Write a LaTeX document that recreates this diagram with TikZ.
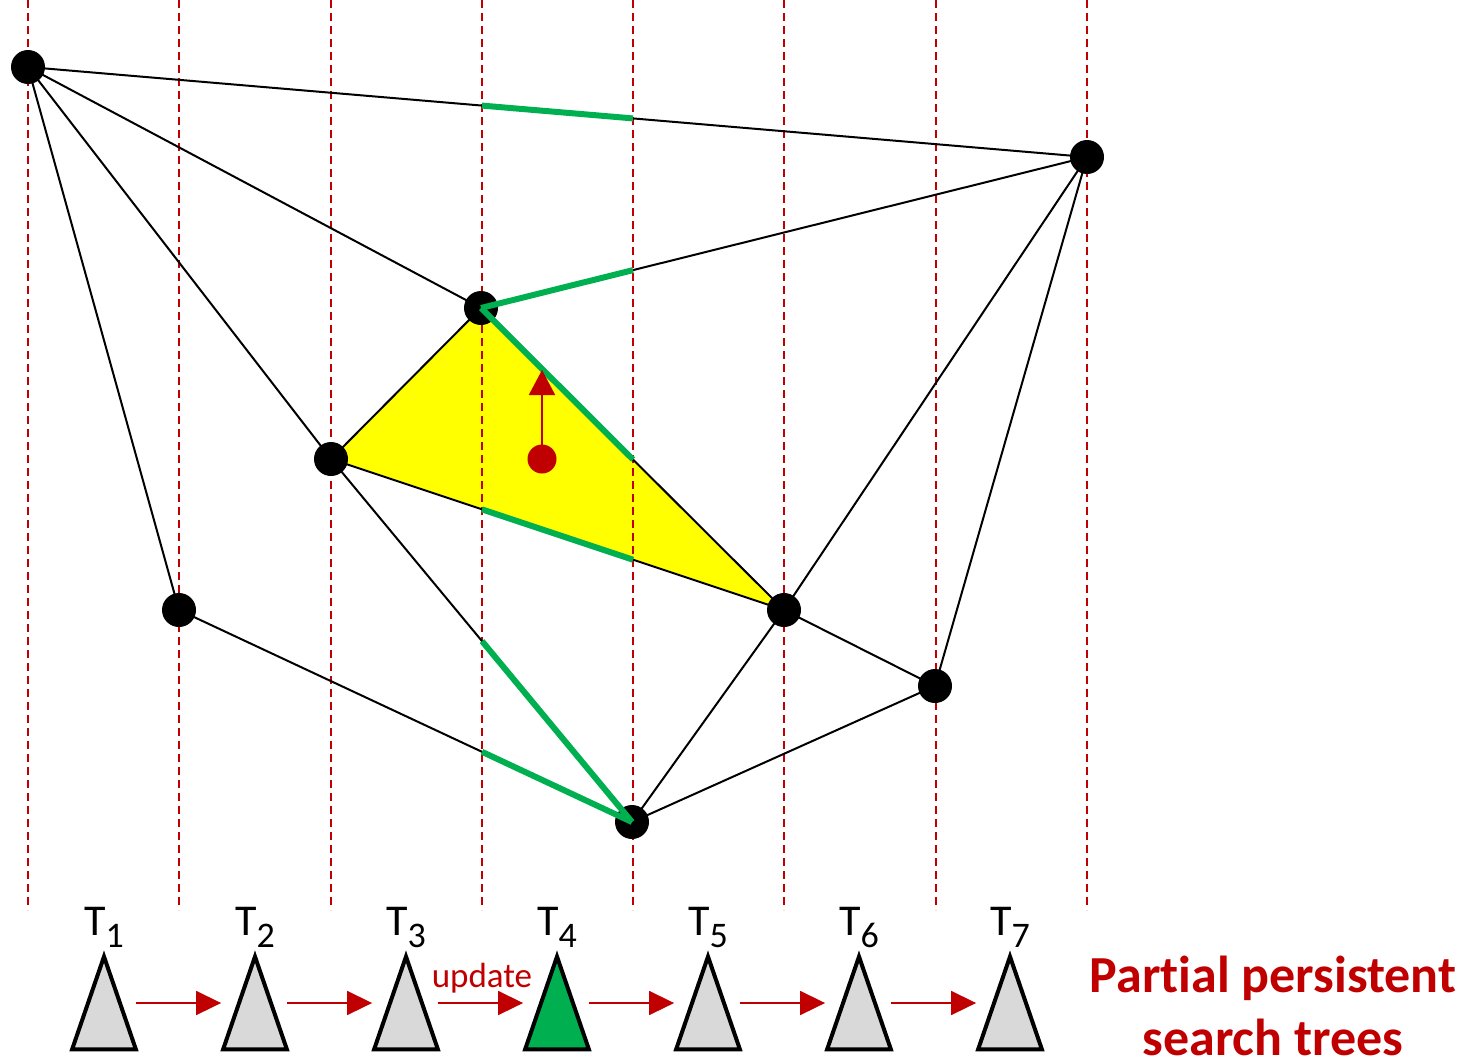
\documentclass[tikz,border=0pt]{standalone}
\usepackage{fontspec}
\setmainfont{Carlito}[Ligatures={NoCommon}]
\usetikzlibrary{arrows.meta,calc}
\definecolor{dred}{HTML}{C00000}
\definecolor{pgreen}{HTML}{00B050}
\definecolor{tgray}{HTML}{D9D9D9}
\definecolor{pyellow}{HTML}{FFFF00}
\begin{document}
\begin{tikzpicture}[x=0.5pt,y=-0.5pt,
  vert/.style={draw=dred, line width=1pt, dash pattern=on 4pt off 2.5pt},
  gedge/.style={draw=black, line width=1pt},
  hl/.style={draw=pgreen, line width=3pt},
  vtx/.style={circle, fill=black, minimum size=17pt, inner sep=0pt},
  reddot/.style={circle, fill=dred, minimum size=14.5pt, inner sep=0pt},
  redarrow/.style={draw=dred, line width=1pt, -{Triangle[length=12.5pt,width=13pt]}},
  treebox/.style={minimum width=31.5pt, minimum height=46pt, inner sep=0pt},
  treeshape/.style={draw=black, line width=2pt},
  tarrow/.style={draw=dred, line width=0.8pt, -{Triangle[length=12.5pt,width=12pt]}},
  tlabel/.style={anchor=base, inner sep=0pt, font=\fontsize{22}{24}\selectfont},
  updlabel/.style={anchor=base, inner sep=0pt, text=dred, font=\fontsize{17.5}{20}\selectfont},
  title/.style={align=center, text=dred, inner sep=0pt, font=\fontsize{26}{31.5}\selectfont\bfseries}
]
\useasboundingbox (0,0) rectangle (1476,1060);

% vertices
\coordinate (A) at (28,67);
\coordinate (B) at (1087,157);
\coordinate (C) at (481,308);
\coordinate (D) at (331,459);
\coordinate (E) at (179,610);
\coordinate (F) at (784,610);
\coordinate (G) at (935,686);
\coordinate (H) at (632,822);

% yellow face
\fill[pyellow] (C) -- (D) -- (F) -- cycle;

% dashed vertical lines
\foreach \i/\x in {1/28,2/179,3/331,4/482,5/633,6/784,7/936,8/1087} {
  \coordinate (v\i t) at (\x,0);
  \coordinate (v\i b) at (\x,910);
  \draw[vert] (v\i t) -- (v\i b);
}

% edges
\draw[gedge] (A) -- (B);
\draw[gedge] (A) -- (C);
\draw[gedge] (A) -- (D);
\draw[gedge] (A) -- (E);
\draw[gedge] (B) -- (C);
\draw[gedge] (B) -- (F);
\draw[gedge] (B) -- (G);
\draw[gedge] (C) -- (D);
\draw[gedge] (C) -- (F);
\draw[gedge] (D) -- (F);
\draw[gedge] (D) -- (H);
\draw[gedge] (E) -- (H);
\draw[gedge] (F) -- (H);
\draw[gedge] (F) -- (G);
\draw[gedge] (G) -- (H);

% vertex dots
\foreach \p in {A,B,C,D,E,F,G,H} {
  \node[vtx] (n\p) at (\p) {};
}

% highlighted segments
\draw[hl] ($(A)!0.4287!(B)$) -- ($(A)!0.5713!(B)$);
\draw[hl] (nC.center) -- ($(C)!0.2508!(B)$);
\draw[hl] (nC.center) -- ($(C)!0.5017!(F)$);
\draw[hl] ($(D)!0.3333!(F)$) -- ($(D)!0.6667!(F)$);
\draw[hl] ($(D)!0.5017!(H)$) -- (nH.center);
\draw[hl] ($(E)!0.6689!(H)$) -- (nH.center);

% query point
\node[reddot] (q) at (542,459) {};
\coordinate (qt) at (542,370);
\draw[redarrow] (q.center) -- (qt);

% trees
\foreach \i/\x in {1/104,2/255,3/406,4/557,5/708,6/859,7/1010} {
  \node[treebox] (t\i) at (\x,1003) {};
  \node[tlabel] (l\i) at (\x,935) {T\raisebox{-6pt}{\fontsize{18}{20}\selectfont\i}};
}
\foreach \i in {1,2,3,5,6,7} {
  \filldraw[treeshape, fill=tgray] (t\i.south west) -- (t\i.north) -- (t\i.south east) -- cycle;
}
\filldraw[treeshape, fill=pgreen] (t4.south west) -- (t4.north) -- (t4.south east) -- cycle;

\foreach \i/\j in {1/2,2/3,3/4,4/5,5/6,6/7} {
  \draw[tarrow] (t\i.east) -- ([xshift=-1pt]t\j.west);
}
\node[updlabel] (upd) at (482,987) {update};

\node[title, anchor=base] (ttl) at (1273,1055) {Partial persistent\\search trees};
\end{tikzpicture}
\end{document}
